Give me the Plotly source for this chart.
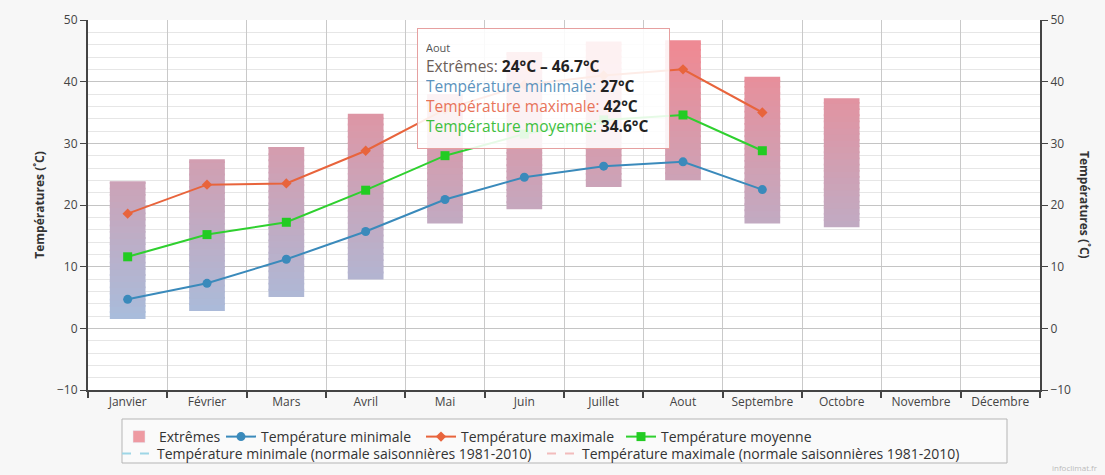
import math
import plotly.graph_objects as go

# ---------------- data ----------------
months = ["Janvier", "Février", "Mars", "Avril", "Mai", "Juin", "Juillet",
          "Aout", "Septembre", "Octobre", "Novembre", "Décembre"]
ext_low = [1.5, 2.8, 5.1, 7.9, 17.0, 19.3, 22.9, 24.0, 17.0, 16.4, None, None]
ext_high = [23.8, 27.4, 29.4, 34.8, 38.0, 44.8, 46.5, 46.7, 40.8, 37.3, None, None]
t_min = [4.7, 7.3, 11.2, 15.7, 20.9, 24.5, 26.3, 27.0, 22.5, None, None, None]
t_max = [18.6, 23.3, 23.5, 28.8, 35.5, 39.5, 41.0, 42.0, 35.0, None, None, None]
t_moy = [11.6, 15.2, 17.2, 22.4, 28.0, 31.5, 33.8, 34.6, 28.8, None, None, None]
norm_min = [None] * 12
norm_max = [None] * 12
y_ticks = [-10, 0, 10, 20, 30, 40, 50]

C_MIN = "#3a8abb"
C_MAX = "#e8643c"
C_MOY = "#2fd02f"
FONT = "Open Sans"

# plot area in pixels (for paper-coordinate conversions)
PL, PR, PT, PB = 88, 1040, 20, 390
PW, PH = PR - PL, PB - PT


def px(x):
    return (x - PL) / PW


def py(y):
    return (PB - y) / PH


def grad_color(v):
    # blue at 0 degC -> red at 45 degC
    t = max(0.0, min(1.0, v / 45.0))
    c0 = (166, 190, 222)
    c1 = (238, 138, 148)
    r, g, b = (round(a + (bb - a) * t) for a, bb in zip(c0, c1))
    return f"rgb({r},{g},{b})"


fig = go.Figure()

# Extrêmes as gradient stacked slices
step = 1.0
spans = [hi - lo for lo, hi in zip(ext_low, ext_high) if lo is not None]
nseg = math.ceil(max(spans) / step)
for k in range(nseg):
    bases, heights, colors = [], [], []
    for lo, hi in zip(ext_low, ext_high):
        if lo is None or lo + k * step >= hi:
            bases.append(None)
            heights.append(None)
            colors.append("rgba(0,0,0,0)")
            continue
        b = lo + k * step
        top = min(b + step + 0.3, hi)
        bases.append(b)
        heights.append(top - b)
        colors.append(grad_color(b + step / 2))
    fig.add_trace(go.Bar(x=months, y=heights, base=bases, width=0.45,
                         marker=dict(color=colors, line=dict(width=0)),
                         showlegend=False, hoverinfo="skip"))

# legend entry for Extrêmes
fig.add_trace(go.Bar(x=[None], y=[None], name="Extrêmes",
                     marker=dict(color="#ee9aa2"), legend="legend"))

fig.add_trace(go.Scatter(x=months, y=t_min, name="Température minimale",
                         mode="lines+markers", line=dict(color=C_MIN, width=2),
                         marker=dict(symbol="circle", size=9, color=C_MIN),
                         legend="legend3"))
fig.add_trace(go.Scatter(x=months, y=t_max, name="Température maximale",
                         mode="lines+markers", line=dict(color=C_MAX, width=2),
                         marker=dict(symbol="diamond", size=8, color=C_MAX),
                         legend="legend3"))
fig.add_trace(go.Scatter(x=months, y=t_moy, name="Température moyenne",
                         mode="lines+markers", line=dict(color=C_MOY, width=2),
                         marker=dict(symbol="square", size=9, color="#22cc22"),
                         legend="legend3"))
fig.add_trace(go.Scatter(x=months, y=norm_min,
                         name="Température minimale (normale saisonnières 1981-2010)",
                         mode="lines", line=dict(color="#9ed6e6", width=2, dash="dash"),
                         legend="legend2"))
fig.add_trace(go.Scatter(x=months, y=norm_max,
                         name="Température maximale (normale saisonnières 1981-2010)",
                         mode="lines", line=dict(color="#f2bcbc", width=2, dash="dash"),
                         legend="legend2"))
# invisible trace so the right-hand axis is drawn
fig.add_trace(go.Scatter(x=months, y=t_min, yaxis="y2", mode="lines",
                         line=dict(width=0), opacity=0, showlegend=False,
                         hoverinfo="skip"))

leg_common = dict(orientation="h", xanchor="left", yanchor="middle",
                  bgcolor="rgba(0,0,0,0)",
                  font=dict(size=14, color="#333", family=FONT), itemwidth=30)

fig.update_layout(
    width=1105, height=475,
    margin=dict(l=PL, r=1105 - PR, t=PT, b=475 - PB, autoexpand=False),
    paper_bgcolor="#f7f7f7", plot_bgcolor="white",
    barmode="overlay",
    font=dict(family=FONT, size=12, color="#444"),
    xaxis=dict(type="category", categoryorder="array", categoryarray=months,
               range=[-0.5, 11.5], tickson="boundaries", ticks="outside",
               ticklen=6, tickwidth=2, tickcolor="#444",
               showgrid=True, gridcolor="#c9c9c9", gridwidth=1,
               showline=True, linecolor="#444", linewidth=2,
               tickfont=dict(size=12, color="#444")),
    yaxis=dict(range=[-10, 50], tickvals=y_ticks, ticks="outside", ticklen=6,
               tickcolor="#444", showline=True, linecolor="#444", linewidth=2,
               gridcolor="#c4c4c4", zeroline=False,
               minor=dict(dtick=2, showgrid=True, gridcolor="#e6e6e6", ticks=""),
               title=dict(text="<b>Températures (˚C)</b>", font=dict(size=12, color="#333"),
                          standoff=10),
               tickfont=dict(size=12, color="#444")),
    yaxis2=dict(range=[-10, 50], tickvals=y_ticks, overlaying="y", side="right",
                anchor="x", ticks="outside", ticklen=6, tickcolor="#444",
                showline=True, linecolor="#444", linewidth=2, showgrid=False,
                zeroline=False, tickfont=dict(size=12, color="#444")),
    legend=dict(x=px(119), y=py(437), **leg_common),
    legend3=dict(x=px(221), y=py(437), entrywidth=155, entrywidthmode="pixels",
                 **leg_common),
    legend2=dict(x=px(117), y=py(454), entrywidth=380, entrywidthmode="pixels",
                 **leg_common),
    shapes=[dict(type="rect", xref="paper", yref="paper",
                 x0=px(122), x1=px(1007), y0=py(463), y1=py(419),
                 line=dict(color="#b5b5b5", width=1), fillcolor="rgba(250,250,250,0.9)",
                 layer="below")],
)

# right axis title
fig.add_annotation(xref="paper", yref="paper", x=px(1085), y=0.5,
                   xanchor="center", yanchor="middle",
                   text="<b>Températures (˚C)</b>", textangle=90, showarrow=False,
                   font=dict(size=12, color="#333"))

# tooltip box
tip = ("<span style='font-size:11px;color:#555'>Aout</span><br>"
       "<span style='color:#6b5d58'>Extrêmes: </span><b>24°C – 46.7°C</b><br>"
       "<span style='color:#5c93bd'>Température minimale: </span><b>27°C</b><br>"
       "<span style='color:#e8745a'>Température maximale: </span><b>42°C</b><br>"
       "<span style='color:#3fbf3f'>Température moyenne: </span><b>34.6°C</b>")
fig.add_annotation(xref="paper", yref="paper", x=px(417), y=py(28),
                   xanchor="left", yanchor="top", align="left", valign="middle",
                   width=235, height=103, showarrow=False,
                   text=tip, font=dict(size=15.5, color="#222", family="Open Sans"),
                   bgcolor="rgba(255,255,255,0.88)", bordercolor="#e6a0a0",
                   borderwidth=1, borderpad=8)

# credit
fig.add_annotation(xref="paper", yref="paper", x=px(1100), y=py(467),
                   xanchor="right", yanchor="middle", showarrow=False,
                   text="infoclimat.fr", font=dict(size=8, color="#bbb"))

fig.write_html("out.html", config={"displayModeBar": False},
               post_script="document.body.style.margin='0';")
